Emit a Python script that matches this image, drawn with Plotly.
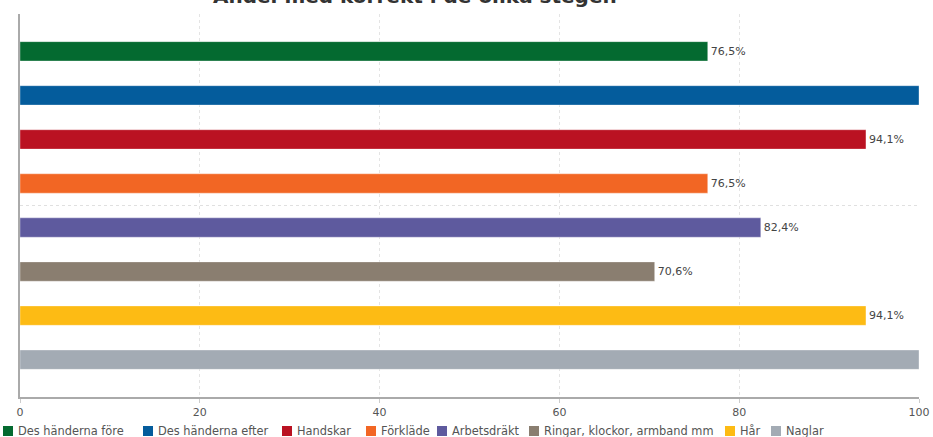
import plotly.graph_objects as go

categories = [""]
series_names = ["Des händerna före", "Des händerna efter", "Handskar", "Förkläde",
                "Arbetsdräkt", "Ringar, klockor, armband mm", "Hår", "Naglar"]
series_values = [76.5, 100.0, 94.1, 76.5, 82.4, 70.6, 94.1, 100.0]
colors = ["#046A30", "#045C9C", "#BA1222", "#F26624", "#5E5A9E", "#8A7E70", "#FDBB14", "#A3ABB4"]
x_ticks = [0, 20, 40, 60, 80, 100]
title_text = "Andel med korrekt i de olika stegen"

# layout: left pixel position of each legend swatch (custom one-row legend)
legend_px = [3, 143, 282, 366, 437, 529, 725, 771]

W, H = 933, 437
ML, MR, MT, MB = 20, 14, 14, 40


def fmt(v):
    return "" if v >= 100 else f"{v:.1f}%".replace(".", ",")


fig = go.Figure()
for name, val, col in zip(series_names, series_values, colors):
    fig.add_trace(go.Bar(
        y=categories, x=[val], name=name, orientation="h",
        marker=dict(color=col, line=dict(color="rgba(255,255,255,0.35)", width=1)),
        text=[fmt(val)], textposition="outside", cliponaxis=False,
        textfont=dict(family="DejaVu Sans", size=11, color="#444444"),
        hoverinfo="x+name", showlegend=False,
    ))

fig.update_layout(
    width=W, height=H,
    margin=dict(l=ML, r=MR, t=MT, b=MB, autoexpand=False),
    paper_bgcolor="white", plot_bgcolor="white",
    barmode="group", bargap=0.08, bargroupgap=0.56,
    showlegend=False,
    font=dict(family="DejaVu Sans", color="#444444"),
)
fig.update_xaxes(range=[0, 100], tickvals=x_ticks, ticktext=[str(t) for t in x_ticks],
                 showgrid=True, gridcolor="#e4e4e4", griddash="dot", gridwidth=1,
                 showline=True, linecolor="#aaaaaa", linewidth=1.5,
                 ticks="outside", ticklen=4, tickcolor="#cccccc",
                 tickfont=dict(family="DejaVu Sans", size=11, color="#555555"),
                 zeroline=False, fixedrange=True)
fig.update_yaxes(autorange="reversed", showgrid=True, gridcolor="#e0e0e0", griddash="dot",
                 showline=True, linecolor="#aaaaaa", linewidth=1.5,
                 showticklabels=False, zeroline=False, fixedrange=True)

pw = W - ML - MR
ph = H - MT - MB


def px_x(p):
    return (p - ML) / pw


def px_y(p):
    return (H - MB - p) / ph


# custom legend (one row, like the reference)
for name, col, lx in zip(series_names, colors, legend_px):
    fig.add_shape(type="rect", xref="paper", yref="paper",
                  x0=px_x(lx), x1=px_x(lx + 10), y0=px_y(436), y1=px_y(426),
                  fillcolor=col, line=dict(width=0))
    fig.add_annotation(text=name, xref="paper", yref="paper",
                       x=px_x(lx + 13), y=px_y(431), xanchor="left", yanchor="middle",
                       showarrow=False,
                       font=dict(family="DejaVu Sans", size=11.4, color="#555555"))

fig.add_annotation(text="<b>" + title_text + "</b>", xref="paper", yref="paper",
                   x=px_x(415), y=px_y(-4), xanchor="center", yanchor="middle",
                   showarrow=False, font=dict(family="DejaVu Sans", size=20, color="#333333"))

fig.write_html("out.html")
